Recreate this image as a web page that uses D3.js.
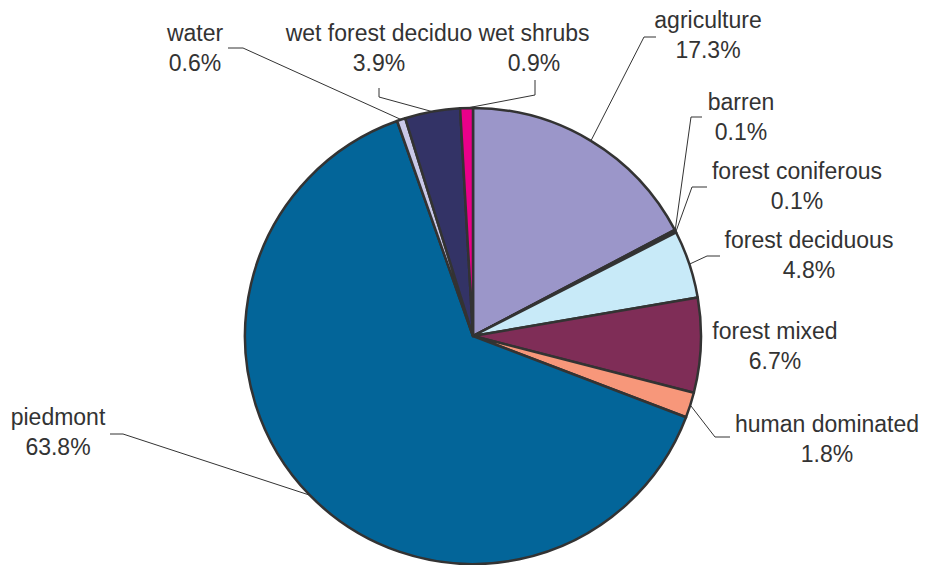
<!DOCTYPE html>
<html><head><meta charset="utf-8">
<script src="https://cdn.jsdelivr.net/npm/d3@7"></script>
<style>body{margin:0;background:#fff}svg{display:block}</style>
</head><body>
<script>
const categories = ["agriculture","barren","forest coniferous","forest deciduous","forest mixed","human dominated","piedmont","water","wet forest deciduo","wet shrubs"];
const values = [17.3,0.1,0.1,4.8,6.7,1.8,63.8,0.6,3.9,0.9];
const colors = ["#9b96c9","#3a3a3a","#c43c4c","#c8eaf8","#7f2d57","#f7977a","#036599","#c9c8e8","#333366","#ea008a"];
// label layout: text centre x, first baseline y, leader elbow and end (null = no leader)
const labelLayout = [
  {x:708,y:28, elbow:[644,37], end:[656,37]},
  {x:741,y:110, elbow:[691,117], end:[702,117]},
  {x:797,y:179, elbow:[692,187], end:[707,187]},
  {x:809,y:248, elbow:[707,256], end:[720,256]},
  {x:775,y:339, elbow:null, end:null},
  {x:827,y:432, elbow:[715,437], end:[730,437]},
  {x:58,y:425, elbow:[123,434], end:[110,434]},
  {x:195,y:41, elbow:[243,48], end:[228,48]},
  {x:379,y:41, elbow:[379,97], end:[379,88]},
  {x:534,y:41, elbow:[535,95], end:[535,80]}
];
const W=926,H=565, cx=473, cy=336, R=228;
const data = categories.map((c,i)=>({name:c, value:values[i], color:colors[i], lay:labelLayout[i]}));
const svg = d3.select("body").append("svg").attr("width",W).attr("height",H);
const pie = d3.pie().value(d=>d.value).sort(null);
const arcs = pie(data);
const arc = d3.arc().innerRadius(0).outerRadius(R);
const g = svg.append("g").attr("transform",`translate(${cx},${cy})`);
g.selectAll("path").data(arcs).join("path")
  .attr("d",arc).attr("fill",d=>d.data.color)
  .attr("stroke","#333").attr("stroke-width",2.5).attr("stroke-linejoin","round");
// leaders
const lg = svg.append("g");
arcs.forEach(a=>{
  const L=a.data.lay; if(!L.elbow) return;
  const m=(a.startAngle+a.endAngle)/2;
  const px=cx+R*Math.sin(m), py=cy-R*Math.cos(m);
  lg.append("polyline").attr("points",`${px},${py} ${L.elbow[0]},${L.elbow[1]} ${L.end[0]},${L.end[1]}`)
    .attr("fill","none").attr("stroke","#333").attr("stroke-width",1);
});
const tg = svg.append("g").attr("font-family","'Liberation Sans', Arial, sans-serif").attr("font-size",23).attr("fill","#333").attr("text-anchor","middle");
arcs.forEach(a=>{
  const L=a.data.lay;
  const t=tg.append("text").attr("x",L.x).attr("y",L.y);
  t.append("tspan").attr("x",L.x).text(a.data.name);
  t.append("tspan").attr("x",L.x).attr("dy",30).text(d3.format(".1f")(a.data.value)+"%");
});
</script>
</body></html>
